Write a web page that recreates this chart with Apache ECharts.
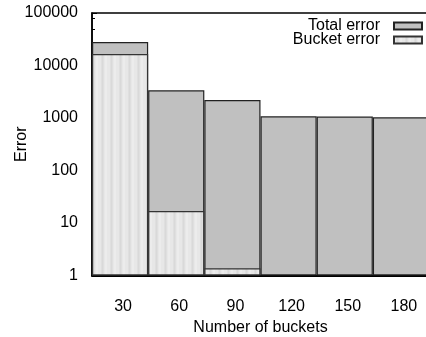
<!DOCTYPE html>
<html>
<head>
<meta charset="utf-8">
<script src="https://cdn.jsdelivr.net/npm/echarts@6/dist/echarts.min.js"></script>
<style>
  html, body { margin: 0; padding: 0; background: #fff; }
  #chart { width: 426px; height: 337px; }
</style>
</head>
<body>
<div id="chart"></div>
<script>
// Error per bucket count (log scale)
const buckets = ['30', '60', '90', '120', '150', '180'];
const totalError = [28000, 3370, 2200, 1077, 1065, 1030];
const bucketError = [16600, 16.9, 1.37, null, null, null];
const yTicks = [1, 10, 100, 1000, 10000, 100000];
const yMinorTicks = [50000, 80000];

// light vertical-stripe fill for the bucket error bars
function stripePattern() {
  const c = document.createElement('canvas');
  const cols = ['#e7e7e7', '#e7e7e7', '#dfdfdf', '#d9d9d9', '#dfdfdf', '#e7e7e7', '#ececec', '#ececec', '#e7e7e7'];
  c.width = cols.length; c.height = 4;
  const ctx = c.getContext('2d');
  cols.forEach((col, i) => { ctx.fillStyle = col; ctx.fillRect(i, 0, 1, 4); });
  return { image: c, repeat: 'repeat' };
}

const font = 'Liberation Sans, Arial, Helvetica, sans-serif';
const chart = echarts.init(document.getElementById('chart'), null, { renderer: 'canvas' });

const legendBase = {
  right: 3, padding: 0, align: 'right', icon: 'rect',
  itemWidth: 28, itemHeight: 7, itemGap: 14, selectedMode: false,
  textStyle: { fontFamily: font, fontSize: 16, color: '#000', padding: [0, 9, 0, 0] }
};

chart.setOption({
  animation: false,
  backgroundColor: '#fff',
  textStyle: { fontFamily: font },
  grid: {
    left: 92, right: -3, top: 13, bottom: 61.5,
    containLabel: false, outerBoundsMode: 'none',
    show: true, borderColor: '#000', borderWidth: 1.5, backgroundColor: 'transparent'
  },
  legend: [
    Object.assign({}, legendBase, { data: ['Total error'], top: 18 }),
    Object.assign({}, legendBase, { data: ['Bucket error'], top: 32 })
  ],
  xAxis: {
    type: 'category',
    data: buckets,
    name: 'Number of buckets',
    nameLocation: 'middle',
    nameGap: 44,
    nameMoveOverlap: false,
    nameTextStyle: { fontFamily: font, fontSize: 16, color: '#000' },
    axisLine: { lineStyle: { color: '#000', width: 2 } },
    axisTick: { show: false },
    axisLabel: { fontFamily: font, fontSize: 16, color: '#000', margin: 23, padding: [0, 0, 0, 6] },
    splitLine: { show: false }
  },
  yAxis: [
    {
      type: 'log',
      logBase: 10,
      min: yTicks[0],
      max: yTicks[yTicks.length - 1],
      name: 'Error',
      nameLocation: 'middle',
      nameGap: 70,
      nameMoveOverlap: false,
      nameTextStyle: { fontFamily: font, fontSize: 16, color: '#000', verticalAlign: 'middle' },
      axisLine: { show: true, lineStyle: { color: '#000', width: 1.5 } },
      axisTick: { show: true, inside: true, length: 5, lineStyle: { color: '#000' } },
      axisLabel: {
        fontFamily: font, fontSize: 16, color: '#000', margin: 14,
        formatter: v => String(Math.round(v))
      },
      splitLine: { show: false }
    },
    {
      // minor ticks on the same log scale
      type: 'log',
      logBase: 10,
      min: yTicks[0],
      max: yTicks[yTicks.length - 1],
      position: 'left',
      axisLine: { show: false },
      axisLabel: { show: false },
      axisTick: {
        show: true, inside: true, length: 3, customValues: yMinorTicks,
        lineStyle: { color: '#000' }
      },
      splitLine: { show: false }
    }
  ],
  series: [
    {
      name: 'Total error',
      type: 'bar',
      data: totalError,
      barCategoryGap: '0%',
      barGap: '-100%',
      itemStyle: { color: '#c0c0c0', borderColor: '#222', borderWidth: 1.2 },
      z: 2
    },
    {
      name: 'Bucket error',
      type: 'bar',
      data: bucketError,
      barCategoryGap: '0%',
      barGap: '-100%',
      itemStyle: { color: stripePattern(), borderColor: '#333', borderWidth: 1.2 },
      z: 3
    }
  ]
});
</script>
</body>
</html>
